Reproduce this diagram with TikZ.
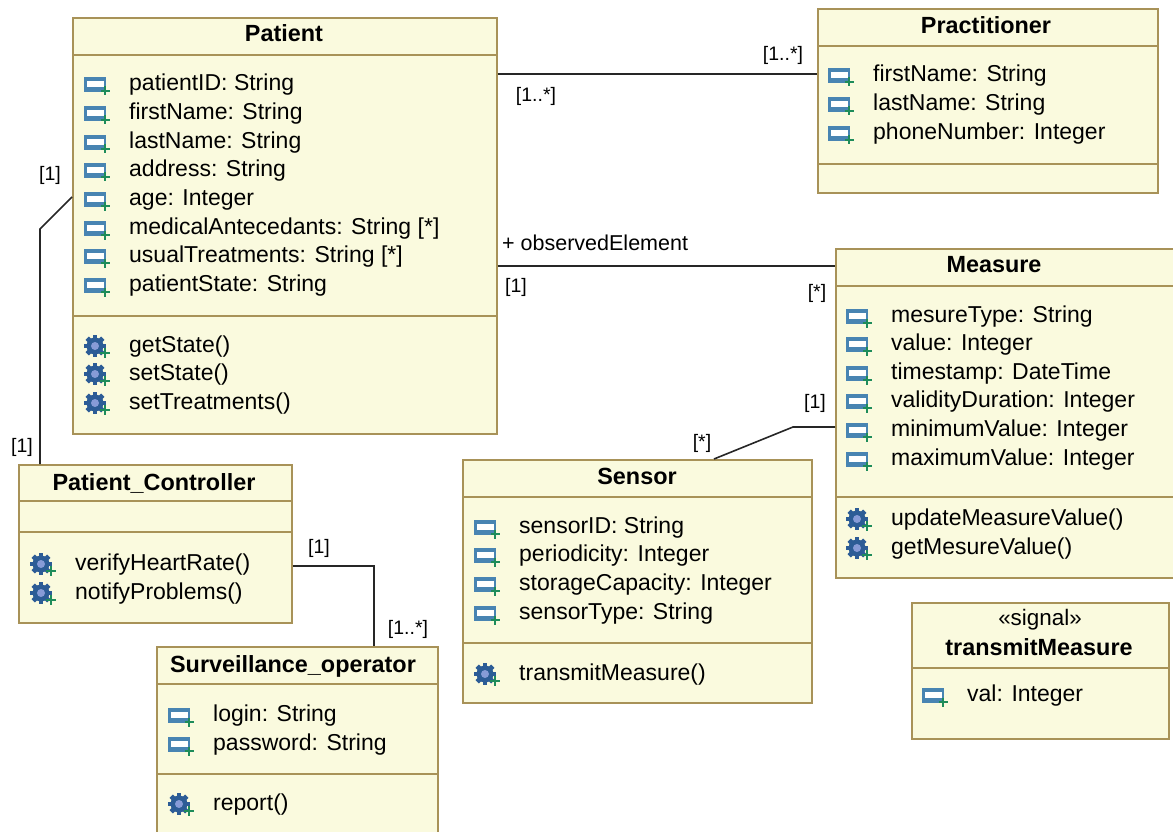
\documentclass[tikz,border=0pt]{standalone}
\usepackage{fontspec}
\setmainfont{Liberation Sans}
\usetikzlibrary{positioning}
\definecolor{boxfill}{RGB}{250,250,222}
\definecolor{boxline}{RGB}{168,146,88}
\definecolor{iconblue}{RGB}{72,132,178}
\definecolor{icondark}{RGB}{44,92,150}
\definecolor{iconlight}{RGB}{135,155,215}
\definecolor{icongreen}{RGB}{30,140,90}
\tikzset{
    classbox/.style = {rectangle, draw=boxline, line width=1.6pt, fill=boxfill, inner sep=0pt, anchor=north west},
    classline/.style = {draw=boxline, line width=1.6pt},
    classname/.style = {inner sep=0pt, font=\fontsize{23.4}{26}\selectfont\bfseries},
    stereo/.style = {inner sep=0pt, font=\fontsize{22.4}{24}\selectfont},
    member/.style = {inner sep=0pt, anchor=west, text height=20pt, text depth=5pt, font=\fontsize{23}{26}\selectfont},
    mult/.style = {inner sep=0pt, yshift=-2pt, font=\fontsize{19.5}{22}\selectfont},
    rolename/.style = {inner sep=0pt, anchor=west, font=\fontsize{21.5}{24}\selectfont},
    assoc/.style = {draw=black!85, line width=1.6pt},
    attricon/.pic = {
      \fill[iconblue] (-12,-8) rectangle (10,7);
      \fill[white] (-9,-4) rectangle (7.5,2);
      \draw[icongreen, line width=2pt] (4.5,6) -- (13.5,6) (9,1.5) -- (9,10.5);
    },
    opericon/.pic = {
      \foreach \a in {0,45,...,315}
        \fill[icondark, rotate=\a] (-2.4,-11) rectangle (2.4,-6);
      \fill[icondark] (0,0) circle (8.5);
      \fill[iconlight] (0,0) circle (4);
      \draw[icongreen, line width=2.2pt] (5,7) -- (15,7) (10,2) -- (10,12);
    }
}
% one compartment row: name, x, y, text
\newcommand{\attrrow}[4]{
  \node[member] (#1) at (#2,#3) {#4};
  \pic at ([xshift=-33pt,yshift=-2pt]#1.west) {attricon};
}
\newcommand{\operrow}[4]{
  \node[member] (#1) at (#2,#3) {#4};
  \pic at ([xshift=-34pt,yshift=-1pt]#1.west) {opericon};
}
\begin{document}
\begin{tikzpicture}[x=1pt,y=-1pt]
  \useasboundingbox (0,0) rectangle (1173,832);

  % Patient
  \node[classbox, minimum width=424pt, minimum height=416pt] at (72,17) (patient) {};
  \node[classname] (patientname) at (284,33) {Patient};
  \draw[classline] (patient.west |- 0,55) -- (patient.east |- 0,55);
  \draw[classline] (patient.west |- 0,316) -- (patient.east |- 0,316);
  \attrrow{patient1}{129}{83}{patientID: String}
  \attrrow{patient2}{129}{112}{firstName: String}
  \attrrow{patient3}{129}{141}{lastName: String}
  \attrrow{patient4}{129}{169}{address: String}
  \attrrow{patient5}{129}{198}{age: Integer}
  \attrrow{patient6}{129}{227}{medicalAntecedants: String [*]}
  \attrrow{patient7}{129}{255}{usualTreatments: String [*]}
  \attrrow{patient8}{129}{284}{patientState: String}
  \operrow{patient9}{129}{345}{getState()}
  \operrow{patient10}{129}{373}{setState()}
  \operrow{patient11}{129}{402}{setTreatments()}

  % Practitioner
  \node[classbox, minimum width=340pt, minimum height=184pt] at (817,8) (practitioner) {};
  \node[classname] (practitionername) at (986,25) {Practitioner};
  \draw[classline] (practitioner.west |- 0,46) -- (practitioner.east |- 0,46);
  \draw[classline] (practitioner.west |- 0,164) -- (practitioner.east |- 0,164);
  \attrrow{practitioner1}{873}{74}{firstName: String}
  \attrrow{practitioner2}{873}{103}{lastName: String}
  \attrrow{practitioner3}{873}{132}{phoneNumber: Integer}

  % Measure
  \node[classbox, minimum width=345pt, minimum height=329pt] at (835,248) (measure) {};
  \node[classname] (measurename) at (994,265) {Measure};
  \draw[classline] (measure.west |- 0,286) -- (measure.east |- 0,286);
  \draw[classline] (measure.west |- 0,497) -- (measure.east |- 0,497);
  \attrrow{measure1}{891}{315}{mesureType: String}
  \attrrow{measure2}{891}{343}{value: Integer}
  \attrrow{measure3}{891}{372}{timestamp: DateTime}
  \attrrow{measure4}{891}{400}{validityDuration: Integer}
  \attrrow{measure5}{891}{429}{minimumValue: Integer}
  \attrrow{measure6}{891}{458}{maximumValue: Integer}
  \operrow{measure7}{891}{518}{updateMeasureValue()}
  \operrow{measure8}{891}{547}{getMesureValue()}

  % Sensor
  \node[classbox, minimum width=349pt, minimum height=243pt] at (462,459) (sensor) {};
  \node[classname] (sensorname) at (637,476) {Sensor};
  \draw[classline] (sensor.west |- 0,497) -- (sensor.east |- 0,497);
  \draw[classline] (sensor.west |- 0,643) -- (sensor.east |- 0,643);
  \attrrow{sensor1}{519}{526}{sensorID: String}
  \attrrow{sensor2}{519}{554}{periodicity: Integer}
  \attrrow{sensor3}{519}{583}{storageCapacity: Integer}
  \attrrow{sensor4}{519}{612}{sensorType: String}
  \operrow{sensor5}{519}{673}{transmitMeasure()}

  % Patient_Controller
  \node[classbox, minimum width=273pt, minimum height=158pt] at (18,464) (controller) {};
  \node[classname] (controllername) at (154,483) {Patient\_Controller};
  \draw[classline] (controller.west |- 0,501) -- (controller.east |- 0,501);
  \draw[classline] (controller.west |- 0,532) -- (controller.east |- 0,532);
  \operrow{controller1}{75}{563}{verifyHeartRate()}
  \operrow{controller2}{75}{592}{notifyProblems()}

  % Surveillance_operator
  \node[classbox, minimum width=281pt, minimum height=200pt] at (156,646) (operator) {};
  \node[classname] (operatorname) at (293,666) {Surveillance\_operator};
  \draw[classline] (operator.west |- 0,684) -- (operator.east |- 0,684);
  \draw[classline] (operator.west |- 0,774) -- (operator.east |- 0,774);
  \attrrow{operator1}{213}{714}{login: String}
  \attrrow{operator2}{213}{743}{password: String}
  \operrow{operator3}{213}{803}{report()}

  % transmitMeasure
  \node[classbox, minimum width=257pt, minimum height=136pt] at (911,602) (signal) {};
  \node[stereo] (signalstereo) at (1040,620) {«signal»};
  \node[classname] (signalname) at (1039,647) {transmitMeasure};
  \draw[classline] (signal.west |- 0,668) -- (signal.east |- 0,668);
  \attrrow{signal1}{967}{694}{val: Integer}

  % associations
  \draw[assoc] (patient.east |- 0,74) -- (practitioner.west |- 0,74);
  \draw[assoc] (patient.east |- 0,266) -- (measure.west |- 0,266);
  \draw[assoc] (patient.west |- 0,197) -- (40,229) -- (40,464);
  \draw[assoc] (714,459) -- (793,427) -- (measure.west |- 0,427);
  \draw[assoc] (controller.east |- 0,566) -- (374,566) -- (374,646);

  \node[mult] (m1) at (536,94) {[1..*]};
  \node[mult] (m2) at (783,53) {[1..*]};
  \node[rolename] (m3) at (502,243) {+ observedElement};
  \node[mult] (m4) at (516,285) {[1]};
  \node[mult] (m5) at (817,291) {[*]};
  \node[mult] (m6) at (50,173) {[1]};
  \node[mult] (m7) at (22,445) {[1]};
  \node[mult] (m8) at (702,441) {[*]};
  \node[mult] (m9) at (815,401) {[1]};
  \node[mult] (m10) at (319,546) {[1]};
  \node[mult] (m11) at (408,627) {[1..*]};
\end{tikzpicture}
\end{document}
